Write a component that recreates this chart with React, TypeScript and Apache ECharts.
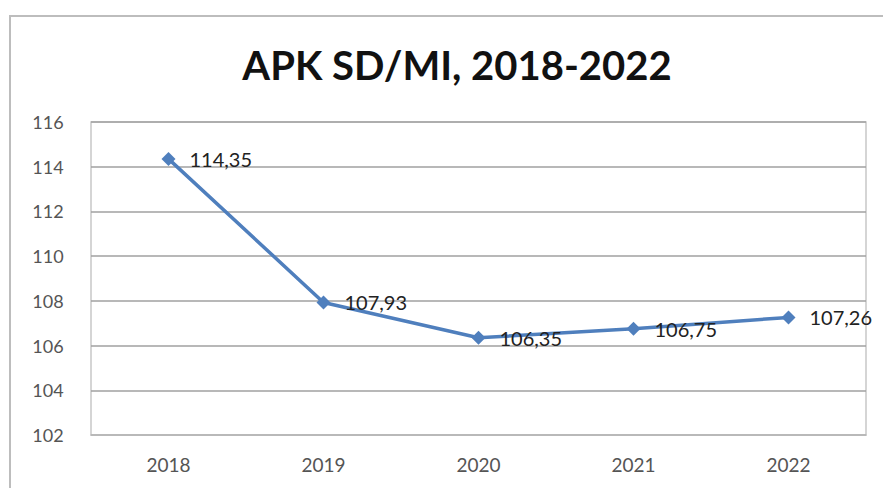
import React, { useEffect, useRef } from "react";
import * as echarts from "echarts";

const categories = ["2018", "2019", "2020", "2021", "2022"];
const apkValues = [114.35, 107.93, 106.35, 106.75, 107.26];
const yTicks = { min: 102, max: 116, interval: 2 };
const titleText = "APK SD/MI, 2018-2022";

export default function App() {
  const ref = useRef<HTMLDivElement>(null);
  useEffect(() => {
    if (!ref.current) return;
    const chart = echarts.init(ref.current, null, { renderer: "svg" });
    chart.setOption({
      animation: false,
      backgroundColor: "#ffffff",
      title: {
        text: titleText,
        left: 452,
        textAlign: "center",
        top: 40,
        textStyle: { fontFamily: "Lato", fontWeight: "bold", fontSize: 40, color: "#111" },
      },
      graphic: [
        {
          type: "rect",
          shape: { x: 10, y: 16, width: 900, height: 500 },
          style: { fill: "none", stroke: "#bdbdbd", lineWidth: 2 },
          silent: true,
        },
      ],
      grid: { left: 91, right: 17, top: 122, bottom: 53, show: true, borderColor: "#c8c8c8", borderWidth: 1.5 },
      xAxis: {
        type: "category",
        data: categories,
        boundaryGap: true,
        axisLine: { show: true, lineStyle: { color: "#bdbdbd", width: 1.5 } },
        axisTick: { show: false },
        axisLabel: { color: "#555", fontSize: 19, margin: 20, fontFamily: "Lato" },
      },
      yAxis: {
        type: "value",
        min: yTicks.min,
        max: yTicks.max,
        interval: yTicks.interval,
        axisLine: { show: false },
        axisTick: { show: false },
        axisLabel: { color: "#555", fontSize: 18, margin: 43, fontFamily: "Lato", align: "center" },
        splitLine: { lineStyle: { color: "#a0a0a0", width: 1.5 } },
      },
      series: [
        {
          type: "line",
          data: apkValues,
          symbol: "diamond",
          symbolSize: 14,
          lineStyle: { color: "#4f7fbd", width: 3.5 },
          itemStyle: { color: "#4f7fbd" },
          label: {
            show: true,
            position: "right",
            distance: 14,
            color: "#222",
            fontSize: 20,
            fontFamily: "Lato",
            formatter: (p: any) => String(p.value.toFixed(2)).replace(".", ","),
          },
        },
      ],
    });
    return () => chart.dispose();
  }, []);
  return (
    <div
      ref={ref}
      style={{ position: "fixed", left: 0, top: 0, width: 883, height: 488 }}
    />
  );
}
